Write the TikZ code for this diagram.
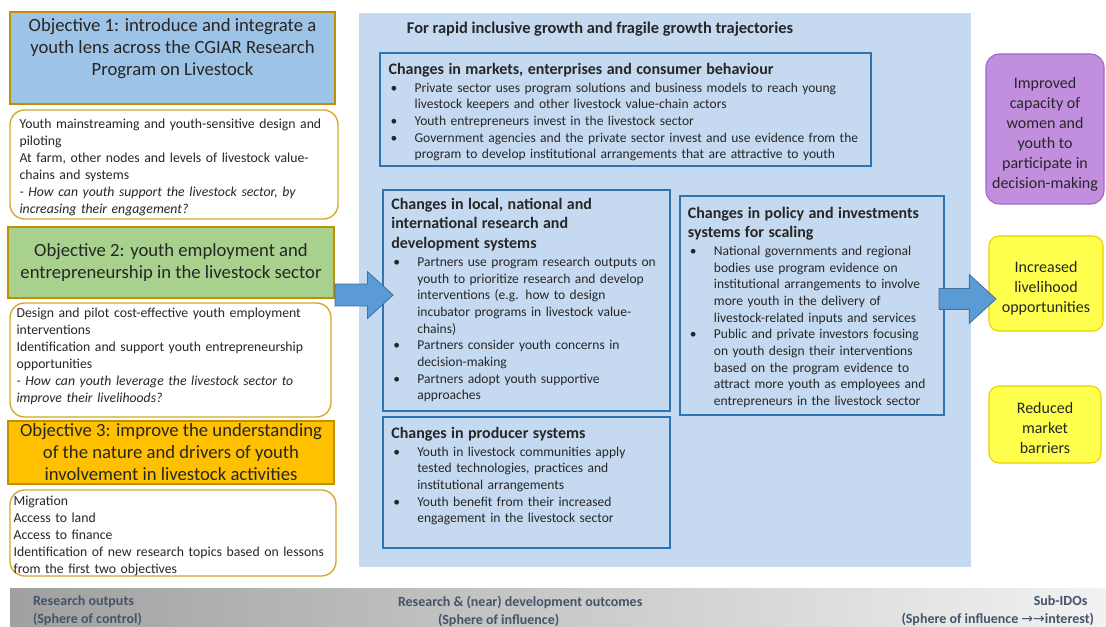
\documentclass[tikz,border=0pt]{standalone}
\usepackage{fontspec}
\setmainfont{Carlito}
\newfontfamily\arrowfont{DejaVu Sans}
\usetikzlibrary{shapes.arrows,positioning}

\definecolor{objblue}{RGB}{157,195,230}
\definecolor{objgreen}{RGB}{169,209,142}
\definecolor{objorange}{RGB}{255,192,0}
\definecolor{objedge}{RGB}{191,144,0}
\definecolor{roundedge}{RGB}{214,166,40}
\definecolor{panelblue}{RGB}{197,218,240}
\definecolor{chedge}{RGB}{46,117,182}
\definecolor{arrowblue}{RGB}{91,155,213}
\definecolor{arrowedge}{RGB}{65,113,156}
\definecolor{idopurple}{RGB}{193,143,221}
\definecolor{purpleedge}{RGB}{160,100,200}
\definecolor{idoyellow}{RGB}{255,255,77}
\definecolor{yellowedge}{RGB}{230,210,0}
\definecolor{bandleft}{RGB}{160,160,160}
\definecolor{bandright}{RGB}{242,242,242}
\definecolor{bandtext}{RGB}{68,84,106}
\definecolor{bodytext}{RGB}{38,38,38}

% bullet line with hanging indent (break lines with \newline, end the list with \par)
\newcommand{\bul}[1]{\par\noindent\hangindent=19.5pt\makebox[19.5pt][l]{\hspace{1.5pt}\textbullet}#1}
\newcommand{\chhead}{\fontsize{12}{14.6}\selectfont\bfseries}
\newcommand{\chbody}{\par\vspace{1pt}\fontsize{10.15}{12.5}\selectfont\mdseries}

\tikzset{
  objbox/.style={draw=objedge, line width=1pt},
  objtxt/.style={align=center, font=\fontsize{14}{16.5}\selectfont},
  notebox/.style={draw=roundedge, line width=1pt, rounded corners=11pt, fill=white},
  notetext/.style={anchor=north west, align=left, text width=250pt, font=\fontsize{10.3}{12.75}\selectfont},
  chbox/.style={draw=chedge, line width=0.9pt, fill=panelblue},
  chtext/.style={anchor=north west, align=left},
  idobox/.style={line width=0.8pt, align=center, font=\fontsize{12}{15}\selectfont},
  bigarrow/.style={single arrow, fill=arrowblue, draw=arrowedge, line width=0.6pt, anchor=tail,
    single arrow tip angle=85, inner xsep=0pt},
  bandtxt/.style={text=bandtext, font=\fontsize{10.5}{13.5}\selectfont\bfseries},
}

\begin{document}
\begin{tikzpicture}[x=0.75pt, y=-0.75pt, every node/.style={text=bodytext, inner sep=0pt}]
  \useasboundingbox (0,0) rectangle (1106,627);

  % research outputs, left column
  \node[objbox, fill=objblue, minimum width=243.75pt, minimum height=69pt] (obj1) at (172.5,58) {};
  \node[objtxt, below=5.5pt of obj1.north] (obj1txt) {Objective 1: introduce and integrate a\\ youth lens across the CGIAR Research\\ Program on Livestock};
  \node[notebox, minimum width=246pt, minimum height=81.75pt] (note1) at (174,164.5) {};
  \node[notetext] (note1txt) at ([xshift=7.5pt,yshift=-7.3pt]note1.north west)
    {Youth mainstreaming and youth-sensitive design and\\ piloting\\ At farm, other nodes and levels of livestock value-\\ chains and systems\\
     \itshape - How can youth support the livestock sector, by\\ increasing their engagement?};

  \node[objbox, objtxt, fill=objgreen, minimum width=244.5pt, minimum height=53.25pt] (obj2) at (171,262.5)
    {Objective 2: youth employment and\\ entrepreneurship in the livestock sector};
  \node[notebox, minimum width=240.75pt, minimum height=85.5pt] (note2) at (170.5,360) {};
  \node[notetext] (note2txt) at ([xshift=5.25pt,yshift=-4pt]note2.north west)
    {Design and pilot cost-effective youth employment\\ interventions\\ Identification and support youth entrepreneurship\\ opportunities\\
     \itshape - How can youth leverage the livestock sector to\\ improve their livelihoods?};

  \node[objbox, objtxt, fill=objorange, minimum width=244.5pt, minimum height=47.25pt] (obj3) at (171,452.5)
    {Objective 3: improve the understanding\\ of the nature and drivers of youth\\ involvement in livestock activities};
  \node[notebox, minimum width=244.5pt, minimum height=64.5pt] (note3) at (173,533) {};
  \node[notetext] (note3txt) at ([xshift=3pt,yshift=-4.5pt]note3.north west)
    {Migration\\ Access to land\\ Access to finance\\ Identification of new research topics based on lessons\\ from the first two objectives};

  % outcomes panel
  \node[fill=panelblue, minimum width=459pt, minimum height=415.5pt] (panel) at (665,290) {};
  \node[anchor=base west, font=\fontsize{12.3}{14}\selectfont\bfseries] (trajectories) at (406.7,33.3)
    {For rapid inclusive growth and fragile growth trajectories};

  \node[chbox, minimum width=368.25pt, minimum height=84.75pt] (markets) at (625.5,109.5) {};
  \node[chtext, text width=362pt] (marketstxt) at ([xshift=6.75pt,yshift=-7.6pt]markets.north west)
    {\chhead Changes in markets, enterprises and consumer behaviour\chbody
     \bul{Private sector uses program solutions and business models to reach young\newline livestock keepers and other livestock value-chain actors}
     \bul{Youth entrepreneurs invest in the livestock sector}
     \bul{Government agencies and the private sector invest and use evidence from the\newline program to develop institutional arrangements that are attractive to youth}\par};

  \node[chbox, minimum width=215.25pt, minimum height=165.75pt] (research) at (526.5,300.5) {};
  \node[chtext, text width=210pt] (researchtxt) at ([xshift=6.5pt,yshift=-6.4pt]research.north west)
    {\chhead Changes in local, national and\\ international research and\\ development systems\chbody
     \bul{Partners use program research outputs on\newline youth to prioritize research and develop\newline interventions (e.g. how to design\newline incubator programs in livestock value-\newline chains)}
     \bul{Partners consider youth concerns in\newline decision-making}
     \bul{Partners adopt youth supportive\newline approaches}\par};

  \node[chbox, minimum width=198pt, minimum height=164.25pt] (policy) at (812,305.5) {};
  \node[chtext, text width=195pt] (policytxt) at ([xshift=6.2pt,yshift=-8.4pt]policy.north west)
    {\chhead Changes in policy and investments\\ systems for scaling\chbody
     \bul{National governments and regional\newline bodies use program evidence on\newline institutional arrangements to involve\newline more youth in the delivery of\newline livestock-related inputs and services}
     \bul{Public and private investors focusing\newline on youth design their interventions\newline based on the program evidence to\newline attract more youth as employees and\newline entrepreneurs in the livestock sector}\par};

  \node[chbox, minimum width=215.25pt, minimum height=98.25pt] (producer) at (526.5,482.5) {};
  \node[chtext, text width=210pt] (producertxt) at ([xshift=6.5pt,yshift=-7.6pt]producer.north west)
    {\chhead Changes in producer systems\chbody
     \bul{Youth in livestock communities apply\newline tested technologies, practices and\newline institutional arrangements}
     \bul{Youth benefit from their increased\newline engagement in the livestock sector}\par};

  % sub-IDOs (the rule on the first line pushes the text a little down)
  \node[idobox, fill=idopurple, draw=purpleedge, rounded corners=10pt, minimum width=88.5pt, minimum height=112.5pt] (capacity) at (1045,129)
    {\rule{0pt}{16pt}Improved\\ capacity of\\ women and\\ youth to\\ participate in\\ decision-making};
  \node[idobox, fill=idoyellow, draw=yellowedge, rounded corners=7.5pt, minimum width=85.5pt, minimum height=71.25pt] (livelihood) at (1046,283.5)
    {\rule{0pt}{15pt}Increased\\ livelihood\\ opportunities};
  \node[idobox, fill=idoyellow, draw=yellowedge, rounded corners=7.5pt, minimum width=84pt, minimum height=57.75pt] (barriers) at (1045,424.5)
    {\rule{0pt}{13pt}Reduced\\ market\\ barriers};

  % block arrows
  \node[bigarrow, minimum height=43.5pt, inner ysep=7.9pt, single arrow head extend=9.4pt] (arrowin) at ([yshift=-24.4pt]obj2.east) {};
  \node[bigarrow, minimum height=42.75pt, inner ysep=7.5pt, single arrow head extend=10.5pt] (arrowout) at ([xshift=-4.5pt,yshift=4.9pt]policy.east) {};

  % spheres band
  \node[left color=bandleft, right color=bandright, minimum width=822pt, minimum height=29.25pt] (band) at (558,607.5) {};
  \node[bandtxt, anchor=north west, align=left] (outputs) at ([xshift=17.25pt,yshift=-6pt]band.north west)
    {Research outputs\\ (Sphere of control)};
  \node[bandtxt, anchor=north west, align=left] (outcomes) at ([xshift=291pt,yshift=-6pt]band.north west)
    {Research \& (near) development outcomes\\ \hspace*{30pt}(Sphere of influence)};
  \node[bandtxt, anchor=north east, align=right] (subidos) at ([xshift=-9pt,yshift=-6pt]band.north east)
    {Sub-IDOs\hspace*{5pt}\\ (Sphere of influence {\arrowfont\mdseries →→}interest)};
\end{tikzpicture}
\end{document}
